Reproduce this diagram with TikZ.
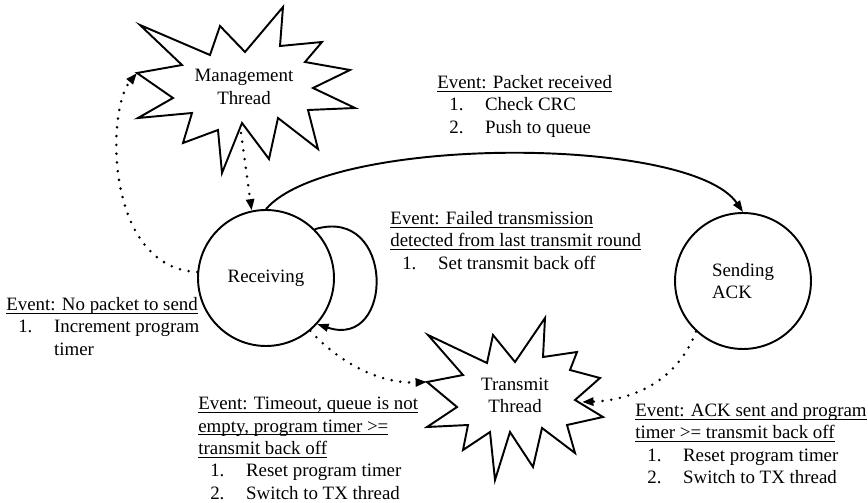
\documentclass[tikz,border=0pt]{standalone}
\usepackage{amsmath}
\usepackage{fontspec}
\setmainfont{Liberation Serif}
\usetikzlibrary{arrows.meta}

\newcommand{\evhead}[1]{\underline{\smash[b]{#1}}}
\newcommand{\evstep}[2]{\hspace*{6.8pt}\makebox[20.4pt][l]{#1}#2}
\newcommand{\evmore}[1]{\hspace*{27.2pt}#1}

\begin{document}
\begin{tikzpicture}[x=0.02cm, y=-0.02cm, >={Triangle[length=6.5pt, width=4.5pt]}, line join=miter, font=\fontsize{10.75pt}{12.7pt}\selectfont,
	state/.style={circle, draw, line width=1.1pt, minimum size=2.72cm, inner sep=0pt},
	burst/.style={draw, line width=1.1pt},
	flow/.style={->, line width=1.1pt},
	dots/.style={->, line width=1.6pt, line cap=round, dash pattern=on 0pt off 5pt},
	event/.style={anchor=north west, inner sep=0pt, align=left}]
	\useasboundingbox (0,0) rectangle (868,503);
	% thread bursts
	\draw[burst] (140,25) -- (210,55) -- (220,26) -- (245,52) -- (283,7) -- (280,46) -- (322,42) -- (305,62) -- (350,70) -- (313,88) -- (355,108) -- (308,110) -- (318,149) -- (278,118) -- (269,159) -- (242,123) -- (222,173) -- (218,130) -- (183,143) -- (192,113) -- (138,118) -- (173,98) -- (137,73) -- (182,65) -- cycle;
	\draw[burst] (428,335) -- (487,363) -- (493,335) -- (515,362) -- (545,318) -- (543,357) -- (577,352) -- (570,370) -- (600,378) -- (575,400) -- (603,417) -- (567,425) -- (575,453) -- (542,428) -- (533,467) -- (510,432) -- (495,480) -- (490,432) -- (463,450) -- (468,425) -- (427,427) -- (457,407) -- (427,382) -- (463,375) -- cycle;
	\node[align=center] (mgmt) at (244,87) {Management\\Thread};
	\node[align=center] (tx) at (515,395) {Transmit\\Thread};
	\coordinate (mgmt-w) at (137,73);
	\coordinate (mgmt-s) at (241,133);
	\coordinate (tx-w) at (427,382);
	\coordinate (tx-e) at (582,402);
	% states
	\node[state] (recv) at (266,278) {Receiving};
	\node[state, align=left] (ack) at (743,281) {Sending\\ACK};
	% transitions
	\draw[flow] (recv.north) .. controls (330,135) and (690,135) .. (ack.north);
	\draw[flow] (recv.45) .. controls (395,205) and (395,350) .. (recv.-42);
	\draw[dots] (mgmt-s) -- (recv.102);
	\draw[dots] (recv.175) .. controls (105,268) and (106,110) .. (mgmt-w);
	\draw[dots] (recv.-50) .. controls (335,358) and (375,384) .. (tx-w);
	\draw[dots] (ack.-133) .. controls (680,375) and (640,400) .. (tx-e);
	% events
	\node[event] (ev-rx) at (437,75) {\evhead{Event: Packet received}\\ \evstep{1.}{Check CRC}\\ \evstep{2.}{Push to queue}};
	\node[event] (ev-fail) at (390,211) {\evhead{Event: Failed transmission}\\ \evhead{detected from last transmit round}\\ \evstep{1.}{Set transmit back off}};
	\node[event] (ev-idle) at (6,297) {\evhead{Event: No packet to send}\\ \evstep{1.}{Increment program}\\ \evmore{timer}};
	\node[event] (ev-timeout) at (198,397) {\evhead{Event: Timeout, queue is not}\\ \evhead{empty, program timer >=}\\ \evhead{transmit back off}\\ \evstep{1.}{Reset program timer}\\ \evstep{2.}{Switch to TX thread}};
	\node[event] (ev-ack) at (635,403) {\evhead{Event: ACK sent and program}\\ \evhead{timer >= transmit back off}\\ \evstep{1.}{Reset program timer}\\ \evstep{2.}{Switch to TX thread}};
\end{tikzpicture}
\end{document}
